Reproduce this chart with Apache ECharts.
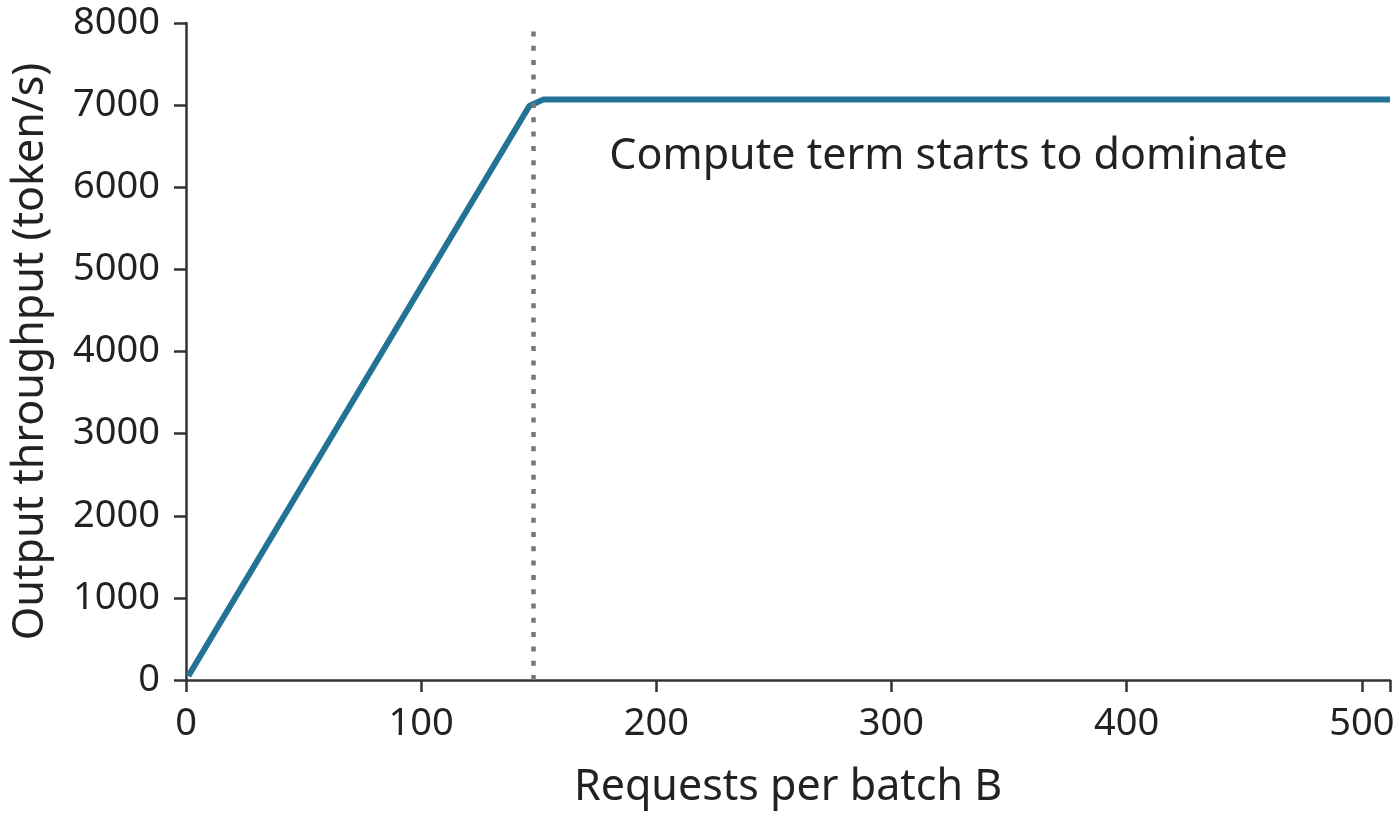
<!DOCTYPE html>
<html>
<head>
<meta charset="utf-8">
<script src="https://cdn.jsdelivr.net/npm/echarts@6/dist/echarts.min.js"></script>
<style>
  html, body { margin: 0; padding: 0; background: #fff; }
  #chart { width: 1400px; height: 815px; }
</style>
</head>
<body>
<div id="chart"></div>
<script>
// throughput curve
const batchSizes = [1, 146, 152, 512];
const throughput = [48, 6990, 7070, 7070];

const kneeB = 147.5;
const noteText = 'Compute term starts to dominate';
const notePos = [180, 6370];

const xTicks = [0, 100, 200, 300, 400, 500];
const yMax = 8000;

const font = '"Noto Sans", "Open Sans", sans-serif';
const axisColor = '#333';
const textColor = '#222';

const chart = echarts.init(document.getElementById('chart'), null, { renderer: 'canvas' });

const option = {
  animation: false,
  grid: { left: 186, right: 10, top: 23, bottom: 135, containLabel: false, outerBoundsMode: 'none' },
  xAxis: {
    type: 'value',
    min: 0,
    max: 512,
    interval: 100,
    name: 'Requests per batch B',
    nameLocation: 'middle',
    nameGap: 86,
    nameTextStyle: { fontSize: 43, color: textColor, fontFamily: font },
    axisLine: { lineStyle: { color: axisColor, width: 2.5 } },
    axisTick: { length: 12, lineStyle: { color: axisColor, width: 2.5 } },
    axisLabel: {
      fontSize: 38, color: textColor, fontFamily: font, margin: 25,
      formatter: v => xTicks.includes(v) ? String(v) : ''
    },
    splitLine: { show: false }
  },
  yAxis: {
    type: 'value',
    min: 0,
    max: yMax,
    interval: 1000,
    name: 'Output throughput (token/s)',
    nameLocation: 'middle',
    nameGap: 134,
    nameTextStyle: { fontSize: 43, color: textColor, fontFamily: font },
    axisLine: { show: true, lineStyle: { color: axisColor, width: 2.5 } },
    axisTick: { show: true, length: 12, lineStyle: { color: axisColor, width: 2.5 } },
    axisLabel: { fontSize: 38, color: textColor, fontFamily: font, margin: 26, formatter: v => String(v) },
    splitLine: { show: false }
  },
  series: [
    {
      type: 'line',
      data: batchSizes.map((b, i) => [b, throughput[i]]),
      showSymbol: false,
      lineStyle: { color: '#237396', width: 6 },
      z: 3,
      markLine: {
        silent: true,
        symbol: 'none',
        label: { show: false },
        lineStyle: { color: '#777', type: [5, 9.3], width: 4.5 },
        data: [{ xAxis: kneeB }]
      }
    },
    {
      type: 'scatter',
      data: [notePos],
      symbolSize: 0,
      silent: true,
      itemStyle: { opacity: 1 },
      label: {
        show: true,
        position: 'right',
        distance: 0,
        formatter: noteText,
        fontSize: 43,
        color: textColor,
        opacity: 1,
        fontFamily: font
      }
    }
  ]
};

chart.setOption(option);
</script>
</body>
</html>
